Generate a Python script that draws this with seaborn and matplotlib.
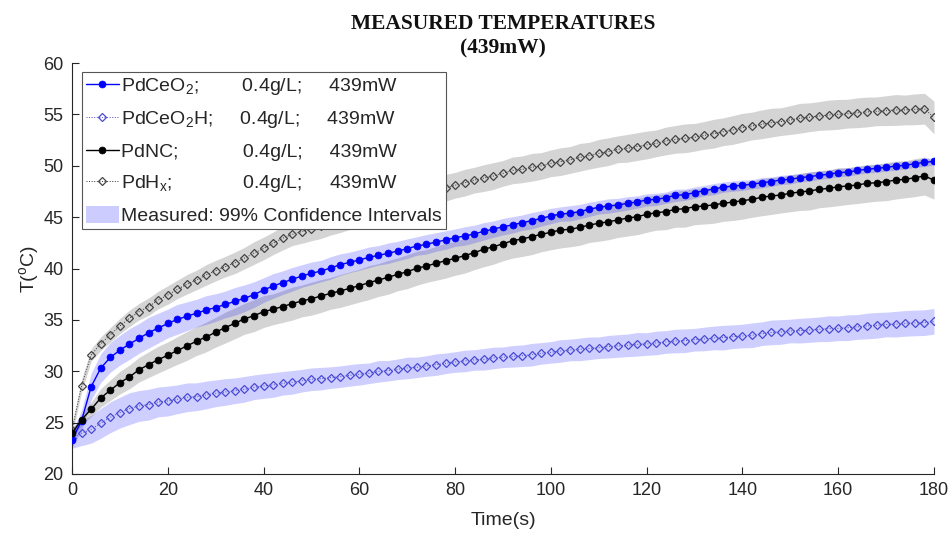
import matplotlib
matplotlib.use("Agg")
import matplotlib.pyplot as plt
import seaborn as sns
import numpy as np
import pandas as pd
from matplotlib.patches import Patch

# ---------------- data ----------------
time_s = list(range(0, 181, 2))

pdceo2 = [23.3, 25.2, 28.5, 30.3, 31.35, 32.05, 32.65, 33.2, 33.75, 34.2,
          34.65, 35.05, 35.35, 35.65, 35.95, 36.2, 36.5, 36.8, 37.1, 37.45,
          37.9, 38.3, 38.62, 38.95, 39.27, 39.53, 39.75, 40.05, 40.37, 40.6,
          40.83, 41.09, 41.28, 41.48, 41.7, 41.93, 42.19, 42.35, 42.58, 42.77,
          43.0, 43.16, 43.36, 43.62, 43.83, 44.07, 44.25, 44.46, 44.65, 44.88,
          45.11, 45.3, 45.37, 45.53, 45.76, 45.96, 46.08, 46.18, 46.34, 46.47,
          46.67, 46.73, 46.89, 47.12, 47.18, 47.38, 47.58, 47.72, 47.92, 48.02,
          48.1, 48.2, 48.35, 48.45, 48.62, 48.68, 48.84, 48.94, 49.07, 49.17,
          49.33, 49.38, 49.55, 49.65, 49.75, 49.84, 49.97, 50.04, 50.2, 50.33,
          50.43]

pdceo2h = [23.5, 23.96, 24.35, 24.93, 25.52, 25.97, 26.36, 26.62, 26.75, 27.01,
           27.1, 27.27, 27.46, 27.52, 27.69, 27.85, 27.98, 28.1, 28.24, 28.44,
           28.56, 28.66, 28.83, 28.92, 29.08, 29.22, 29.28, 29.38, 29.47, 29.6,
           29.7, 29.8, 29.99, 30.05, 30.19, 30.32, 30.38, 30.51, 30.64, 30.77,
           30.9, 31.0, 31.1, 31.16, 31.29, 31.36, 31.45, 31.51, 31.61, 31.74,
           31.84, 31.97, 32.07, 32.13, 32.23, 32.29, 32.39, 32.46, 32.52, 32.62,
           32.65, 32.75, 32.85, 32.94, 32.97, 33.07, 33.14, 33.24, 33.27, 33.36,
           33.43, 33.5, 33.65, 33.78, 33.82, 33.92, 33.95, 34.01, 34.08, 34.14,
           34.18, 34.24, 34.31, 34.4, 34.47, 34.55, 34.58, 34.66, 34.7, 34.73,
           34.86]

pdnc = [23.95, 25.3, 26.3, 27.4, 28.15, 28.89, 29.45, 30.15, 30.64, 31.13,
        31.55, 32.02, 32.46, 32.93, 33.33, 33.8, 34.25, 34.66, 35.1, 35.4,
        35.8, 36.03, 36.3, 36.58, 36.84, 37.06, 37.32, 37.58, 37.81, 38.07,
        38.33, 38.62, 38.88, 39.14, 39.43, 39.69, 40.02, 40.24, 40.5, 40.76,
        40.99, 41.25, 41.54, 41.87, 42.12, 42.4, 42.71, 42.87, 43.1, 43.33,
        43.52, 43.75, 43.81, 44.0, 44.23, 44.4, 44.55, 44.72, 44.91, 45.04,
        45.27, 45.43, 45.53, 45.76, 45.82, 46.01, 46.08, 46.2, 46.34, 46.47,
        46.6, 46.73, 46.93, 47.06, 47.15, 47.32, 47.45, 47.54, 47.71, 47.8,
        47.96, 48.03, 48.13, 48.29, 48.35, 48.45, 48.61, 48.68, 48.84, 49.0,
        48.6]

pdhx = [24.3, 28.6, 31.58, 32.68, 33.55, 34.4, 35.15, 35.8, 36.28, 36.93,
        37.42, 37.97, 38.46, 38.88, 39.37, 39.79, 40.18, 40.55, 41.0, 41.5,
        41.95, 42.45, 42.95, 43.33, 43.6, 43.85, 44.12, 44.4, 44.7, 45.0,
        45.3, 45.6, 45.9, 46.15, 46.45, 46.75, 47.0, 47.3, 47.55, 47.85,
        48.1, 48.35, 48.6, 48.8, 49.0, 49.26, 49.55, 49.65, 49.85, 49.98,
        50.24, 50.4, 50.56, 50.82, 50.98, 51.21, 51.37, 51.6, 51.7, 51.86,
        52.02, 52.18, 52.41, 52.57, 52.67, 52.77, 52.95, 53.12, 53.31, 53.48,
        53.7, 53.87, 54.03, 54.19, 54.29, 54.45, 54.62, 54.72, 54.84, 54.94,
        55.0, 55.07, 55.16, 55.23, 55.3, 55.36, 55.43, 55.43, 55.49, 55.55,
        54.7]

# 99% confidence half-widths (degC)
ci_pdceo2 = [0.7, 1.0, 1.3, 1.4, 1.45, 1.45, 1.5, 1.45, 1.5, 1.45,
             1.4, 1.45, 1.4, 1.35, 1.4, 1.35, 1.3, 1.35, 1.3, 1.25,
             1.2, 1.2, 1.15, 1.15, 1.1, 1.1, 1.05, 1.1, 1.05, 1.0,
             1.0, 1.0, 0.95, 1.0, 0.95, 0.95, 0.9, 0.95, 0.9, 0.9,
             0.85, 0.9, 0.85, 0.85, 0.8, 0.8, 0.8, 0.75, 0.8, 0.75,
             0.75, 0.7, 0.75, 0.7, 0.7, 0.65, 0.7, 0.65, 0.65, 0.6,
             0.6, 0.6, 0.55, 0.6, 0.55, 0.55, 0.5, 0.55, 0.5, 0.5,
             0.5, 0.45, 0.5, 0.45, 0.45, 0.45, 0.4, 0.45, 0.4, 0.4,
             0.4, 0.4, 0.4, 0.35, 0.4, 0.35, 0.4, 0.35, 0.35, 0.4,
             0.35]

ci_pdceo2h = [1.0, 1.2, 1.35, 1.45, 1.5, 1.5, 1.55, 1.5, 1.5, 1.45,
              1.45, 1.4, 1.4, 1.35, 1.35, 1.3, 1.3, 1.25, 1.25, 1.2,
              1.2, 1.2, 1.15, 1.15, 1.1, 1.1, 1.1, 1.05, 1.05, 1.05,
              1.05, 1.0, 1.05, 1.0, 1.0, 1.05, 1.0, 1.0, 1.05, 1.0,
              1.0, 1.05, 1.0, 1.05, 1.05, 1.0, 1.05, 1.05, 1.1, 1.05,
              1.05, 1.1, 1.05, 1.1, 1.1, 1.05, 1.1, 1.1, 1.1, 1.15,
              1.1, 1.15, 1.1, 1.15, 1.15, 1.1, 1.15, 1.15, 1.2, 1.15,
              1.15, 1.2, 1.15, 1.2, 1.2, 1.15, 1.2, 1.2, 1.2, 1.25,
              1.2, 1.25, 1.2, 1.25, 1.25, 1.2, 1.25, 1.25, 1.25, 1.25,
              1.25]

ci_pdnc = [0.4, 0.5, 0.7, 0.9, 1.0, 1.1, 1.15, 1.2, 1.25, 1.3,
           1.3, 1.35, 1.4, 1.4, 1.45, 1.45, 1.5, 1.5, 1.5, 1.55,
           1.55, 1.5, 1.55, 1.6, 1.55, 1.6, 1.6, 1.55, 1.6, 1.6,
           1.6, 1.65, 1.6, 1.65, 1.6, 1.65, 1.65, 1.6, 1.65, 1.7,
           1.65, 1.7, 1.65, 1.7, 1.7, 1.65, 1.7, 1.7, 1.75, 1.7,
           1.7, 1.75, 1.7, 1.75, 1.7, 1.75, 1.75, 1.7, 1.75, 1.75,
           1.75, 1.7, 1.75, 1.75, 1.8, 1.75, 1.75, 1.8, 1.75, 1.8,
           1.8, 1.75, 1.8, 1.8, 1.75, 1.8, 1.8, 1.85, 1.8, 1.8,
           1.85, 1.8, 1.8, 1.85, 1.8, 1.85, 1.85, 1.8, 1.85, 1.85,
           1.85]

ci_pdhx = [0.5, 0.6, 0.6, 0.65, 0.7, 0.75, 0.8, 0.8, 0.85, 0.85,
           0.9, 0.9, 0.95, 0.95, 1.0, 1.0, 1.0, 1.05, 1.05, 1.1,
           1.1, 1.1, 1.15, 1.1, 1.15, 1.15, 1.2, 1.15, 1.2, 1.2,
           1.2, 1.2, 1.25, 1.2, 1.25, 1.25, 1.2, 1.25, 1.25, 1.3,
           1.25, 1.3, 1.25, 1.3, 1.3, 1.25, 1.3, 1.3, 1.35, 1.3,
           1.3, 1.35, 1.3, 1.35, 1.3, 1.35, 1.35, 1.3, 1.35, 1.35,
           1.35, 1.3, 1.35, 1.35, 1.4, 1.35, 1.35, 1.4, 1.35, 1.4,
           1.4, 1.35, 1.4, 1.4, 1.35, 1.4, 1.45, 1.4, 1.4, 1.45,
           1.45, 1.4, 1.45, 1.45, 1.4, 1.45, 1.5, 1.45, 1.5, 1.5,
           1.6]

labels = ["PdCeO$_2$;" + " " * 8 + "0.4g/L;" + " " * 5 + "439mW",
          "PdCeO$_2$H;" + " " * 5 + "0.4g/L;" + " " * 5 + "439mW",
          "PdNC;" + " " * 12 + "0.4g/L;" + " " * 5 + "439mW",
          "PdH$_\\mathrm{x}$;" + " " * 13 + "0.4g/L;" + " " * 5 + "439mW",
          "Measured: 99% Confidence Intervals"]

x_ticks = [0, 20, 40, 60, 80, 100, 120, 140, 160, 180]
y_ticks = [20, 25, 30, 35, 40, 45, 50, 55, 60]

df = pd.DataFrame({"t": time_s, "PdCeO2": pdceo2, "PdCeO2H": pdceo2h,
                   "PdNC": pdnc, "PdHx": pdhx})

# ---------------- style ----------------
sns.set_style("ticks")
plt.rcParams["font.family"] = ["Liberation Sans", "DejaVu Sans"]
plt.rcParams["mathtext.fontset"] = "custom"
plt.rcParams["mathtext.rm"] = "Liberation Sans"
plt.rcParams["mathtext.it"] = "Liberation Sans:italic"
plt.rcParams["mathtext.bf"] = "Liberation Sans:bold"

fig = plt.figure(figsize=(9.53, 5.34), dpi=100)
ax = fig.add_axes([72 / 953, 60 / 534, 862 / 953, 411 / 534])

BLUE = "#0000ff"
PURPLE = "#4b4bd2"
BAND_BLUE = (0.0, 0.0, 1.0, 0.19)
BAND_GRAY = (0.0, 0.0, 0.0, 0.17)

t_arr = np.array(time_s)
for vals, ci, col in [(pdceo2h, ci_pdceo2h, BAND_BLUE),
                      (pdhx, ci_pdhx, BAND_GRAY),
                      (pdnc, ci_pdnc, BAND_GRAY),
                      (pdceo2, ci_pdceo2, BAND_BLUE)]:
    v = np.array(vals)
    c = np.array(ci)
    ax.fill_between(t_arr, v - c, v + c, color=col, linewidth=0, zorder=1)

sns.lineplot(data=df, x="t", y="PdCeO2", ax=ax, color=BLUE, linewidth=1.0,
             linestyle="-", marker="o", markersize=5, markerfacecolor=BLUE,
             markeredgecolor=BLUE, markeredgewidth=0.5, zorder=4)
sns.lineplot(data=df, x="t", y="PdCeO2H", ax=ax, color=PURPLE, linewidth=0.7,
             linestyle=":", marker="D", markersize=4.0, markerfacecolor="none",
             markeredgecolor=PURPLE, markeredgewidth=0.9, zorder=3)
sns.lineplot(data=df, x="t", y="PdNC", ax=ax, color="black", linewidth=1.0,
             linestyle="-", marker="o", markersize=5, markerfacecolor="black",
             markeredgecolor="black", markeredgewidth=0.5, zorder=4)
sns.lineplot(data=df, x="t", y="PdHx", ax=ax, color="#333333", linewidth=0.7,
             linestyle=":", marker="D", markersize=4.0, markerfacecolor="none",
             markeredgecolor="#444444", markeredgewidth=0.9, zorder=3)

ax.set_xlim(0, 180)
ax.set_ylim(20, 60)
ax.set_xticks(x_ticks)
ax.set_yticks(y_ticks)
ax.tick_params(direction="in", length=5, width=0.8, labelsize=13,
               colors="#262626", pad=6)
for s in ["top", "right"]:
    ax.spines[s].set_visible(False)
for s in ["left", "bottom"]:
    ax.spines[s].set_color("#262626")
    ax.spines[s].set_linewidth(0.8)

ax.set_xlabel("Time(s)", fontsize=14, color="#262626", labelpad=9)
ax.set_ylabel("T($^{\\mathrm{o}}$C)", fontsize=14, color="#262626", labelpad=2)

handles = list(ax.lines[:4]) + [Patch(facecolor=(0.80, 0.80, 1.0), edgecolor="none")]
leg = ax.legend(handles, labels, loc="upper left",
                bbox_to_anchor=(10 / 862, (474 - 72) / 411), borderaxespad=0,
                fontsize=14, frameon=True, fancybox=False, framealpha=1,
                edgecolor="#555555", handlelength=1.7, handleheight=1.0,
                handletextpad=0.1, labelspacing=0.6, borderpad=0.2)
leg.get_frame().set_linewidth(0.8)
leg.set_zorder(10)

fig.text(503 / 953, 1 - 14 / 534, "MEASURED TEMPERATURES\n(439mW)",
         ha="center", va="top", fontsize=15.5, fontweight="bold",
         family=["Liberation Serif", "DejaVu Serif"], linespacing=1.3,
         color="#111111")

fig.savefig("out.png", dpi=100)
